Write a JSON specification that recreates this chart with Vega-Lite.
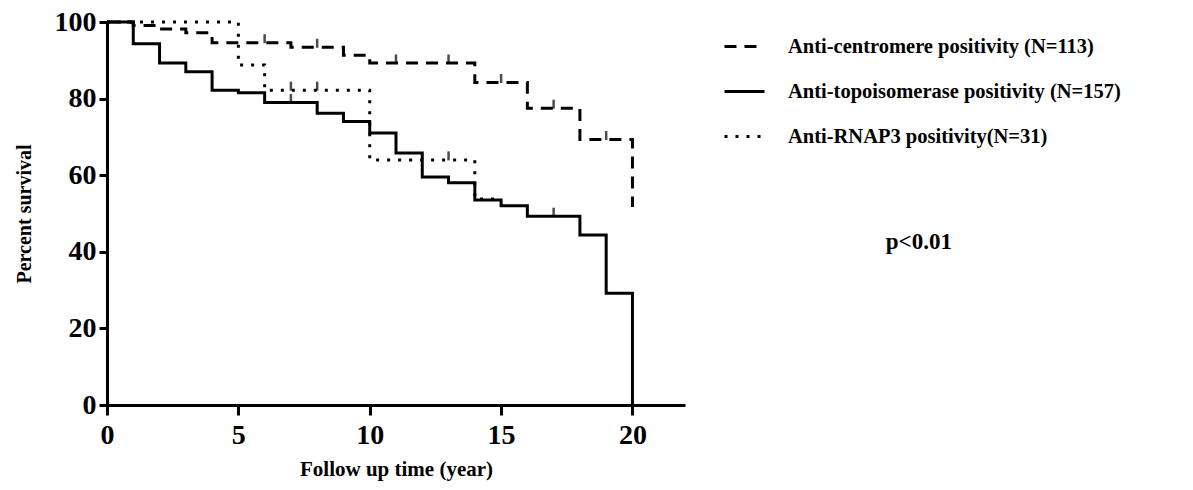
{
  "$schema": "https://vega.github.io/schema/vega-lite/v6.json",
  "width": 578,
  "height": 383,
  "autosize": {"type": "none"},
  "padding": {"left": 107, "top": 22, "right": 508, "bottom": 85},
  "background": "white",
  "config": {
    "view": {"stroke": null},
    "font": "Liberation Serif",
    "axis": {"grid": false, "domainColor": "black", "tickColor": "black", "domainWidth": 3, "tickWidth": 3, "labelColor": "black", "titleColor": "black", "labelFont": "Liberation Serif", "titleFont": "Liberation Serif", "labelFontWeight": "bold", "titleFontWeight": "bold"}
  },
  "datasets": {
    "curves": [
      {"series": "Anti-centromere positivity (N=113)", "t": 0, "s": 100},
      {"series": "Anti-centromere positivity (N=113)", "t": 1, "s": 99.1},
      {"series": "Anti-centromere positivity (N=113)", "t": 2, "s": 98.2},
      {"series": "Anti-centromere positivity (N=113)", "t": 3, "s": 97.2},
      {"series": "Anti-centromere positivity (N=113)", "t": 4, "s": 94.6},
      {"series": "Anti-centromere positivity (N=113)", "t": 7, "s": 93.4},
      {"series": "Anti-centromere positivity (N=113)", "t": 9, "s": 91.3},
      {"series": "Anti-centromere positivity (N=113)", "t": 10, "s": 89.3},
      {"series": "Anti-centromere positivity (N=113)", "t": 14, "s": 84.2},
      {"series": "Anti-centromere positivity (N=113)", "t": 16, "s": 77.5},
      {"series": "Anti-centromere positivity (N=113)", "t": 18, "s": 69.3},
      {"series": "Anti-centromere positivity (N=113)", "t": 20, "s": 51.7},
      {"series": "Anti-topoisomerase positivity (N=157)", "t": 0, "s": 100},
      {"series": "Anti-topoisomerase positivity (N=157)", "t": 1, "s": 94.3},
      {"series": "Anti-topoisomerase positivity (N=157)", "t": 2, "s": 89.3},
      {"series": "Anti-topoisomerase positivity (N=157)", "t": 3, "s": 87},
      {"series": "Anti-topoisomerase positivity (N=157)", "t": 4, "s": 82.2},
      {"series": "Anti-topoisomerase positivity (N=157)", "t": 5, "s": 81.5},
      {"series": "Anti-topoisomerase positivity (N=157)", "t": 6, "s": 79},
      {"series": "Anti-topoisomerase positivity (N=157)", "t": 8, "s": 76.2},
      {"series": "Anti-topoisomerase positivity (N=157)", "t": 9, "s": 74},
      {"series": "Anti-topoisomerase positivity (N=157)", "t": 10, "s": 71},
      {"series": "Anti-topoisomerase positivity (N=157)", "t": 11, "s": 65.8},
      {"series": "Anti-topoisomerase positivity (N=157)", "t": 12, "s": 59.5},
      {"series": "Anti-topoisomerase positivity (N=157)", "t": 13, "s": 58},
      {"series": "Anti-topoisomerase positivity (N=157)", "t": 14, "s": 53.5},
      {"series": "Anti-topoisomerase positivity (N=157)", "t": 15, "s": 52},
      {"series": "Anti-topoisomerase positivity (N=157)", "t": 16, "s": 49.3},
      {"series": "Anti-topoisomerase positivity (N=157)", "t": 18, "s": 44.4},
      {"series": "Anti-topoisomerase positivity (N=157)", "t": 19, "s": 29.2},
      {"series": "Anti-topoisomerase positivity (N=157)", "t": 20, "s": 0},
      {"series": "Anti-RNAP3 positivity(N=31)", "t": 0, "s": 100},
      {"series": "Anti-RNAP3 positivity(N=31)", "t": 5, "s": 88.8},
      {"series": "Anti-RNAP3 positivity(N=31)", "t": 6, "s": 82.2},
      {"series": "Anti-RNAP3 positivity(N=31)", "t": 10, "s": 64},
      {"series": "Anti-RNAP3 positivity(N=31)", "t": 14, "s": 53.8},
      {"series": "Anti-RNAP3 positivity(N=31)", "t": 15, "s": 53.8}
    ],
    "censor": [
      {"t": 7, "s": 79},
      {"t": 17, "s": 49.3},
      {"t": 6, "s": 94.6},
      {"t": 8, "s": 93.4},
      {"t": 11, "s": 89.3},
      {"t": 13, "s": 89.3},
      {"t": 15, "s": 84.2},
      {"t": 17, "s": 77.5},
      {"t": 19, "s": 69.3},
      {"t": 7, "s": 82.2},
      {"t": 8, "s": 82.2},
      {"t": 13, "s": 64}
    ],
    "note": [
      {"t": 30.9, "s": 42.6, "label": "p<0.01"}
    ]
  },
  "layer": [
    {
      "data": {"name": "curves"},
      "mark": {"type": "line", "interpolate": "step-after", "color": "black", "strokeWidth": 3, "clip": false},
      "encoding": {
        "x": {"field": "t", "type": "quantitative", "scale": {"domain": [0, 22], "nice": false, "zero": false},
          "axis": {"values": [0, 5, 10, 15, 20], "title": "Follow up time (year)", "labelFontSize": 28, "tickSize": 10, "labelPadding": 6, "titleFontSize": 21, "titlePadding": 9, "labelFlush": false}},
        "y": {"field": "s", "type": "quantitative", "scale": {"domain": [0, 100], "nice": false},
          "axis": {"values": [0, 20, 40, 60, 80, 100], "title": "Percent survival", "labelFontSize": 28, "tickSize": 8, "labelPadding": 3, "titleFontSize": 20, "titlePadding": 20, "labelFlush": false}},
        "strokeDash": {"field": "series", "type": "nominal",
          "scale": {"domain": ["Anti-centromere positivity (N=113)", "Anti-topoisomerase positivity (N=157)", "Anti-RNAP3 positivity(N=31)"], "range": [[12, 8], [1, 0], [3, 8]]},
          "legend": {"title": null, "orient": "none", "legendX": 616, "legendY": 3, "symbolType": "stroke", "symbolSize": 1600, "symbolStrokeWidth": 3, "symbolStrokeColor": "black", "labelFontSize": 20.5, "labelFont": "Liberation Serif", "labelFontWeight": "bold", "labelColor": "black", "labelOffset": 22, "rowPadding": 13, "labelLimit": 500}}
      }
    },
    {
      "data": {"name": "censor"},
      "mark": {"type": "tick", "orient": "vertical", "color": "black", "size": 9, "thickness": 2.5, "yOffset": -4, "clip": false},
      "encoding": {
        "x": {"field": "t", "type": "quantitative"},
        "y": {"field": "s", "type": "quantitative"}
      }
    },
    {
      "data": {"name": "note"},
      "mark": {"type": "text", "font": "Liberation Serif", "fontWeight": "bold", "fontSize": 23, "color": "black", "align": "center", "baseline": "middle", "clip": false},
      "encoding": {
        "x": {"field": "t", "type": "quantitative"},
        "y": {"field": "s", "type": "quantitative"},
        "text": {"field": "label"}
      }
    }
  ]
}
